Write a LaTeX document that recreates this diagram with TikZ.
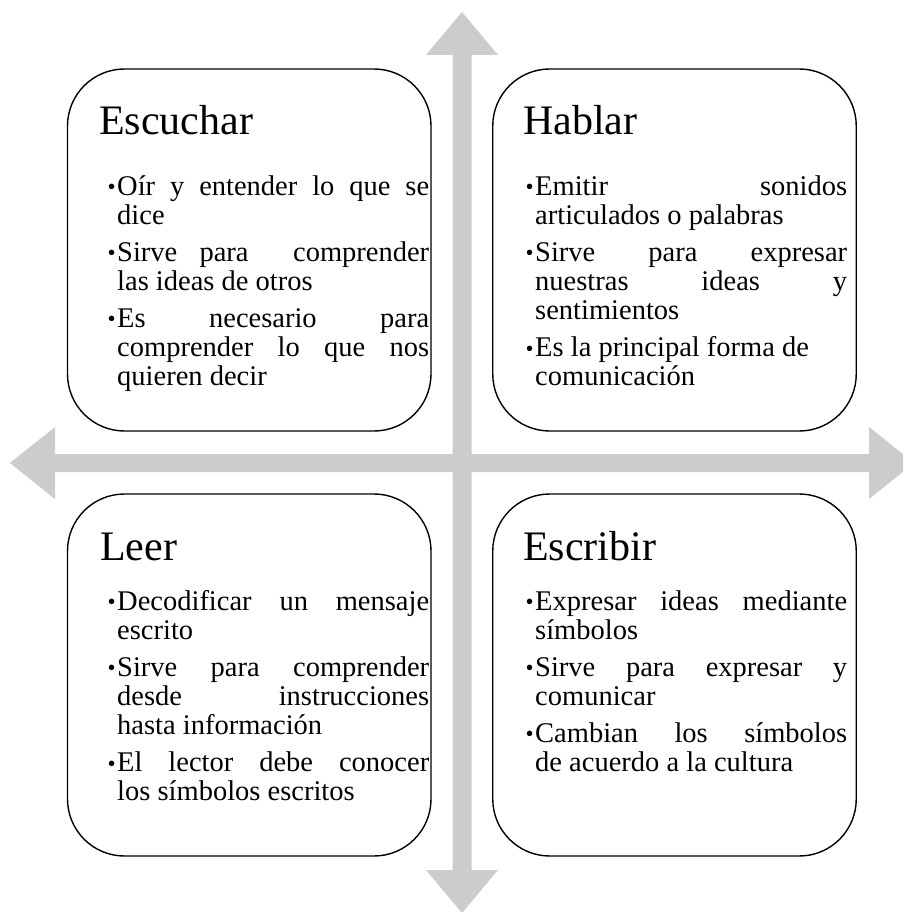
\documentclass[tikz,border=0pt]{standalone}
\usepackage{fontspec}
\setmainfont{Liberation Serif}
\definecolor{crossgray}{RGB}{204,204,204}
\newlength\colw \setlength\colw{324pt}
\newlength\indw \setlength\indw{12pt}
\newlength\txtw \setlength\txtw{312pt}
\newcommand\JL[1]{\makebox[\txtw][s]{#1}}
\newcommand\bulletmark{{\fontsize{23}{23}\selectfont\raisebox{0.5pt}{•}}}
\newcommand\BL[1]{\makebox[\indw][r]{\bulletmark\hspace{1.5pt}}#1}
\newcommand\CL[1]{\hspace*{\indw}#1}
\newcommand\itemgap{\\[7.5pt]}
\tikzset{
  box/.style={draw=black, line width=1.4pt, fill=white, rounded corners=57pt,
    minimum width=363.5pt, minimum height=362pt, inner sep=0pt},
  titletext/.style={anchor=base west, inner sep=0pt, font=\fontsize{42}{42}\selectfont},
  bodytext/.style={anchor=base west, inner sep=0pt, font=\fontsize{28.5}{29.3}\selectfont},
}
\begin{document}
\begin{tikzpicture}[x=1pt, y=-1pt]
\useasboundingbox (0,0) rectangle (903,912);
\clip (0,0) rectangle (903,912);
% cross of four arrows
\fill[crossgray] (462,12) -- (498,55) -- (471.5,55) -- (471.5,454) -- (869,454) -- (869,427)
  -- (914,463) -- (869,499) -- (869,472) -- (471.5,472) -- (471.5,870) -- (498,870)
  -- (462,913) -- (426,870) -- (452.5,870) -- (452.5,472) -- (55,472) -- (55,499)
  -- (10,463) -- (55,427) -- (55,454) -- (452.5,454) -- (452.5,55) -- (426,55) -- cycle;
% boxes
\node[box] (escuchar) at (249.25,250) {};
\node[box] (hablar) at (674.5,250) {};
\node[box] (leer) at (249.25,675) {};
\node[box] (escribir) at (674.5,675) {};
% titles
\node[titletext] (tescuchar) at (99,135) {Escuchar};
\node[titletext] (thablar) at (523,135) {Hablar};
\node[titletext] (tleer) at (100,560) {Leer};
\node[titletext] (tescribir) at (523,560) {Escribir};
% bodies
\node[bodytext] (bescuchar) at (105,195) {\parbox[t]{\colw}{%
\BL{\JL{Oír y entender lo que se}}\\
\CL{dice}\itemgap
\BL{\JL{Sirve para\ \ comprender}}\\
\CL{las ideas de otros}\itemgap
\BL{\JL{Es necesario para}}\\
\CL{\JL{comprender lo que nos}}\\
\CL{quieren decir}}};
\node[bodytext] (bhablar) at (523,195) {\parbox[t]{\colw}{%
\BL{\JL{Emitir sonidos}}\\
\CL{articulados o palabras}\itemgap
\BL{\JL{Sirve para expresar}}\\
\CL{\JL{nuestras ideas y}}\\
\CL{sentimientos}\itemgap
\BL{Es la principal forma de}\\
\CL{comunicación}}};
\node[bodytext] (bleer) at (105,610) {\parbox[t]{\colw}{%
\BL{\JL{Decodificar un mensaje}}\\
\CL{escrito}\itemgap
\BL{\JL{Sirve para comprender}}\\
\CL{\JL{desde instrucciones}}\\
\CL{hasta información}\itemgap
\BL{\JL{El lector debe conocer}}\\
\CL{los símbolos escritos}}};
\node[bodytext] (bescribir) at (523,610) {\parbox[t]{\colw}{%
\BL{\JL{Expresar ideas mediante}}\\
\CL{símbolos}\itemgap
\BL{\JL{Sirve para expresar y}}\\
\CL{comunicar}\itemgap
\BL{\JL{Cambian los símbolos}}\\
\CL{de acuerdo a la cultura}}};
\end{tikzpicture}
\end{document}
